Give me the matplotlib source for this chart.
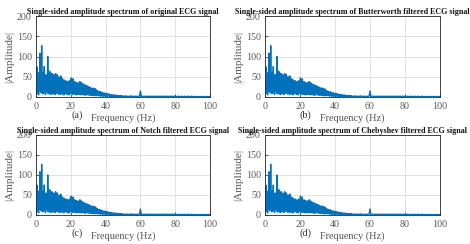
import numpy as np
import matplotlib
matplotlib.use("Agg")
import matplotlib.pyplot as plt

plt.rcParams['font.family'] = ['Liberation Serif', 'DejaVu Serif']

amp_low = [
    0, 25, 8, 74, 12, 30, 5, 60, 15, 108, 20, 45, 10, 127, 25, 50, 8, 60, 18, 75,
    10, 40, 6, 55, 14, 48, 20, 100, 8, 65, 15, 50, 7, 62, 12, 40, 6, 58, 14, 45,
    8, 55, 12, 38, 6, 58, 15, 42, 9, 55, 12, 35, 7, 50, 10, 38, 6, 52, 12, 30,
    7, 45, 10, 32, 5, 42, 12, 30, 8, 40, 10, 28, 6, 38, 9, 30, 5, 40, 12, 35,
    8, 47, 12, 30, 6, 45, 10, 28, 7, 38, 10, 25, 5, 36, 9, 28, 6, 35, 10, 24,
    6, 38, 9, 22, 5, 35, 8, 25, 6, 32, 8, 20, 4, 30, 7, 22, 5, 28, 8, 20,
    5, 26, 7, 18, 4, 24, 7, 16, 4, 22, 6, 15, 3, 22, 6, 14, 3, 20, 5, 13,
    3, 16, 5, 11, 3, 14, 4, 10, 2, 13, 4, 9, 2, 11, 3, 8, 2, 10, 3, 8,
    2, 9, 3, 7, 2, 8, 3, 6, 2, 7, 2, 5, 1, 6, 2, 5, 1, 5, 2, 4,
    1, 5, 2, 4, 1, 4, 2, 3, 1, 4, 1, 3, 1, 3, 1, 3, 1, 3, 1, 2,
    1,
]
# Spectrum amplitudes, 50.5-100 Hz sampled every 0.5 Hz (60 Hz mains spike)
amp_high = [
    2, 1, 3, 1, 2, 1, 2, 1, 3, 1, 2, 1, 2, 1, 2, 1, 2, 1, 3, 15,
    2, 1, 2, 1, 2, 1, 2, 1, 2, 1, 2, 1, 2, 1, 2, 1, 2, 1, 2, 1,
    2, 1, 2, 1, 2, 1, 2, 1, 2, 1, 2, 1, 2, 1, 2, 1, 2, 1, 2, 1,
    1, 1, 2, 1, 1, 1, 2, 1, 1, 1, 2, 1, 1, 1, 2, 1, 1, 1, 2, 1,
    1, 1, 1, 1, 1, 1, 1, 1, 1, 1, 1, 1, 1, 1, 1, 1, 1, 1, 1, 1,
]

titles = [
    "Single-sided amplitude spectrum of original ECG signal",
    "Single-sided amplitude spectrum of Butterworth filtered ECG signal",
    "Single-sided amplitude spectrum of Notch filtered ECG signal",
    "Single-sided amplitude spectrum of Chebyshev filtered ECG signal",
]
panel_tags = ["(a)", "(b)", "(c)", "(d)"]
x_ticks = [0, 20, 40, 60, 80, 100]
y_ticks = [0, 50, 100, 150, 200]

freq = np.concatenate([np.arange(len(amp_low)) * 0.25,
                       50 + 0.5 * (np.arange(len(amp_high)) + 1)])
amp = np.array(amp_low + amp_high, dtype=float)

W, H = 470, 244
fig = plt.figure(figsize=(W / 100, H / 100), dpi=100)

# axes boxes in pixels: left, top, right, bottom
boxes = [(36, 16, 210, 97), (265, 16, 440, 97),
         (36, 135, 210, 215), (265, 135, 440, 215)]

for i, (l, t, r, b) in enumerate(boxes):
    ax = fig.add_axes([l / W, 1 - b / H, (r - l) / W, (b - t) / H])
    ax.plot(freq, amp, color='#0072BD', lw=1.0)
    ax.set_xlim(0, 100)
    ax.set_ylim(0, 200)
    ax.set_xticks(x_ticks)
    ax.set_yticks(y_ticks)
    ax.grid(True, color='#dcdcdc', lw=0.6)
    ax.set_axisbelow(True)
    for s in ax.spines.values():
        s.set_color('#262626')
        s.set_linewidth(0.6)
    ax.tick_params(direction='in', length=2, width=0.5, colors='#262626',
                   labelcolor='#5a5a5a', labelsize=7.2, pad=3.5)
    ax.tick_params(axis='y', pad=3)
    ax.set_title(titles[i], fontsize=5.8, fontweight='bold', pad=1.5, color='#111111')
    ax.set_ylabel('|Amplitude|', fontsize=8.0, color='#555555', labelpad=2)
    ax.set_xlabel('Frequency (Hz)', fontsize=7.4, color='#555555', labelpad=1.5)
    fig.text((l + 35) / W, 1 - (b + 18.5) / H, panel_tags[i], fontsize=7.4,
             color='#333333', ha='left', va='center')

fig.savefig('out.png', dpi=100)
